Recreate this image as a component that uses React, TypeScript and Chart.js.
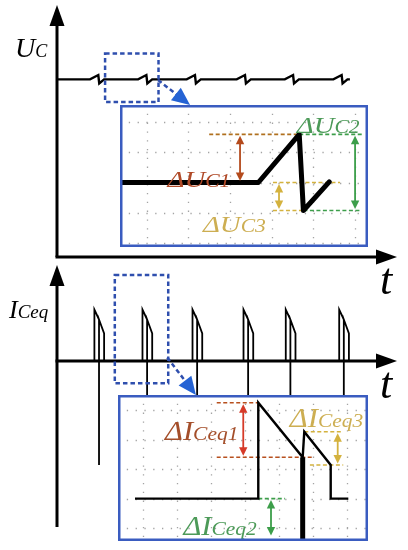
import React, { useEffect, useRef } from "react";
import { Chart, registerables } from "chart.js";

Chart.register(...registerables);

const FONT = '"Liberation Serif", "Times New Roman", serif';

// ================= DATA =================
// Time in switching periods (both main panels share the same time axis)
const TIME_AXIS_MAX = 7;

// ---- Top panel: capacitor voltage U_C ----
const UC_AXIS_MAX = 10;
const UC_LEVEL = 7.05;
const UC_END = 6.03;
const UC_RIPPLE_STARTS = [0.68, 1.67, 2.67, 3.7, 4.69, 5.69];
// one ripple event: [time offset, voltage offset]
const UC_RIPPLE_SHAPE = [
  [0, 0],
  [0.17, 0.17],
  [0.19, -0.16],
  [0.29, 0],
];
const UC_ZOOM_T = [0.99, 2.09];
const UC_ZOOM_V = [6.15, 8.08];
const UC_ZOOM_ARROW = [
  [2.08, 7.02],
  [2.74, 6.03],
];

// ---- Bottom panel: equivalent capacitor current I_Ceq ----
const ICEQ_AXIS_MIN = -16.6;
const ICEQ_AXIS_MAX = 9.6;
const ICEQ_SPIKE_STARTS = [0.77, 1.76, 2.79, 3.84, 4.71, 5.81];
// one current pulse: [time offset, current]
const ICEQ_SPIKE_SHAPE = [
  [0, 0],
  [0, 5.15],
  [0.095, 4.15],
  [0.095, -10.4],
  [0.095, 4.15],
  [0.2, 2.75],
  [0.2, 0],
];
const ICEQ_ZOOM_T = [1.19, 2.29];
const ICEQ_ZOOM_V = [-2.23, 8.6];
const ICEQ_ZOOM_ARROW = [
  [2.27, 0.35],
  [2.86, -3.4],
];

// ---- Top detail (units = grid divisions) ----
const UC_DETAIL_X = [-0.62, 2.68, 3.66, 3.76, 4.38];
const UC_DETAIL_Y = [0, 0, 1.6, -0.93, 0.02];
const UC_PEAK = 1.6;
const UC_FLAT = 0;
const UC_MIN = -0.93;
// dashed guide lines: [x1, x2, y, colorKey]
const UC_GUIDES: [number, number, number, string][] = [
  [1.5, 3.66, UC_PEAK, "g1"],
  [3.66, 5.16, UC_PEAK, "c2"],
  [3.76, 5.16, UC_MIN, "c2"],
  [3.03, 4.64, UC_FLAT, "c3"],
  [3.03, 3.76, UC_MIN, "c3"],
];
// double arrows: [x, y1, y2, colorKey]
const UC_ARROWS: [number, number, number, string][] = [
  [2.24, UC_PEAK, UC_FLAT, "a1"],
  [5.0, UC_PEAK, UC_MIN, "c2"],
  [3.175, UC_FLAT, UC_MIN, "c3"],
];
// labels: [x, y, subscript, colorKey]
const UC_LABELS: [number, number, string, string][] = [
  [0.5, -0.15, "C1", "t1"],
  [3.6, 1.645, "C2", "c2t"],
  [1.35, -1.645, "C3", "c3t"],
];

// ---- Bottom detail (units = grid divisions) ----
const ICEQ_DETAIL_X = [-0.244, 3.382, 3.382, 4.688, 4.735, 5.512, 5.512, 6.03];
const ICEQ_DETAIL_Y = [0, 0, 3.262, 1.405, 2.276, 1.143, 0, 0];
const ICEQ_DETAIL_DIP_X = [4.688, 4.688];
const ICEQ_DETAIL_DIP_Y = [1.405, -1.6];
const ICEQ_GUIDES: [number, number, number, string][] = [
  [2.16, 3.382, 3.262, "i1"],
  [2.16, 5.0, 1.405, "i1"],
  [3.382, 4.17, 0, "c2"],
  [4.735, 5.88, 2.276, "c3"],
  [4.9, 5.88, 1.143, "c3"],
];
const ICEQ_ARROWS: [number, number, number, string][] = [
  [2.94, 3.262, 1.405, "ia1"],
  [3.756, 0, -1.306, "c2"],
  [5.718, 2.276, 1.143, "c3"],
];
const ICEQ_LABELS: [number, number, string, string][] = [
  [0.64, 1.99, "Ceq1", "it1"],
  [1.18, -1.24, "Ceq2", "c2t"],
  [4.31, 2.44, "Ceq3", "c3t"],
];

// ================= STYLE =================
const C: Record<string, string> = {
  axis: "#000000",
  wave: "#000000",
  zoomBox: "#2f4fae",
  zoomHead: "#2563d4",
  border: "#3a5cc0",
  grid: "#a4a4a4",
  g1: "#b0701e",
  a1: "#b44a1c",
  t1: "#b04a28",
  c2: "#3c9e4a",
  c2t: "#4c9a58",
  c3: "#d4b23e",
  c3t: "#cdae52",
  i1: "#b8501e",
  ia1: "#d63a28",
  it1: "#a44e2a",
};

// ================= HELPERS =================
function arrowHead(ctx: CanvasRenderingContext2D, x1: number, y1: number, x2: number, y2: number, len: number, half: number, color: string) {
  const a = Math.atan2(y2 - y1, x2 - x1);
  const bx = x2 - len * Math.cos(a);
  const by = y2 - len * Math.sin(a);
  ctx.beginPath();
  ctx.moveTo(x2, y2);
  ctx.lineTo(bx + half * Math.sin(a), by - half * Math.cos(a));
  ctx.lineTo(bx - half * Math.sin(a), by + half * Math.cos(a));
  ctx.closePath();
  ctx.fillStyle = color;
  ctx.fill();
}

function drawParts(ctx: CanvasRenderingContext2D, x: number, y: number, parts: [string, number][], color: string, stretch = 1) {
  ctx.save();
  ctx.translate(x, y);
  ctx.scale(stretch, 1);
  ctx.fillStyle = color;
  ctx.textBaseline = "alphabetic";
  ctx.textAlign = "left";
  let cx = 0;
  for (const [s, size] of parts) {
    ctx.font = `italic ${size}px ${FONT}`;
    ctx.fillText(s, cx, 0);
    cx += ctx.measureText(s).width;
  }
  ctx.restore();
}

function lineDs(xs: number[], ys: number[], color: string, width: number, extra: any = {}) {
  return {
    data: xs.map((x, i) => ({ x, y: ys[i] })),
    borderColor: color,
    borderWidth: width,
    pointRadius: 0,
    fill: false,
    tension: 0,
    clip: false,
    ...extra,
  };
}

function baseOptions(xMin: number, xMax: number, yMin: number, yMax: number, padding: any) {
  return {
    responsive: false,
    animation: false,
    devicePixelRatio: 1,
    events: [],
    layout: { padding },
    scales: {
      x: { type: "linear", display: false, min: xMin, max: xMax },
      y: { type: "linear", display: false, min: yMin, max: yMax },
    },
    plugins: { legend: { display: false }, tooltip: { enabled: false } },
  };
}

function mainPlugin(kind: "uc" | "ic") {
  return {
    id: "mainAxes" + kind,
    afterDatasetsDraw(chart: any) {
      const { ctx, chartArea: a } = chart;
      const xs = chart.scales.x;
      const ys = chart.scales.y;
      const x0 = xs.getPixelForValue(0);
      const y0 = ys.getPixelForValue(0);
      ctx.save();
      ctx.strokeStyle = C.axis;
      ctx.lineWidth = 3;
      ctx.setLineDash([]);
      ctx.beginPath();
      ctx.moveTo(x0 - 1.5, y0);
      ctx.lineTo(a.right - 18, y0);
      ctx.stroke();
      arrowHead(ctx, x0, y0, a.right, y0, 21, 7.5, C.axis);
      ctx.beginPath();
      ctx.moveTo(x0, a.bottom);
      ctx.lineTo(x0, a.top + 18);
      ctx.stroke();
      arrowHead(ctx, x0, a.bottom, x0, a.top, 21, 7.5, C.axis);

      // axis titles
      drawParts(ctx, a.right - 17, y0 + 37, [["t", 44]], C.axis);
      if (kind === "uc") {
        drawParts(ctx, x0 - 42, a.top + 52, [["U", 28], ["C", 18]], C.axis);
      } else {
        drawParts(ctx, x0 - 48, a.top + 53, [["I", 26], ["Ceq", 19]], C.axis);
      }

      // zoom window
      const zt = kind === "uc" ? UC_ZOOM_T : ICEQ_ZOOM_T;
      const zv = kind === "uc" ? UC_ZOOM_V : ICEQ_ZOOM_V;
      const za = kind === "uc" ? UC_ZOOM_ARROW : ICEQ_ZOOM_ARROW;
      const bx1 = xs.getPixelForValue(zt[0]);
      const bx2 = xs.getPixelForValue(zt[1]);
      const by1 = ys.getPixelForValue(zv[1]);
      const by2 = ys.getPixelForValue(zv[0]);
      ctx.strokeStyle = C.zoomBox;
      ctx.lineWidth = 2.5;
      ctx.setLineDash([4.5, 3]);
      ctx.strokeRect(bx1, by1, bx2 - bx1, by2 - by1);
      const ax1 = xs.getPixelForValue(za[0][0]);
      const ay1 = ys.getPixelForValue(za[0][1]);
      const ax2 = xs.getPixelForValue(za[1][0]);
      const ay2 = ys.getPixelForValue(za[1][1]);
      const ang = Math.atan2(ay2 - ay1, ax2 - ax1);
      ctx.beginPath();
      ctx.moveTo(ax1, ay1);
      ctx.lineTo(ax2 - 14 * Math.cos(ang), ay2 - 14 * Math.sin(ang));
      ctx.stroke();
      ctx.setLineDash([]);
      arrowHead(ctx, ax1, ay1, ax2, ay2, 18, 8, C.zoomHead);
      ctx.restore();
    },
  };
}

function insetPlugin(
  guidesArrows: [number, number, number, string][],
  labels: [number, number, string, string][],
  mainLetter: string,
  bigSize: number,
  subSize: number,
  stretch: number
) {
  return {
    id: "inset" + mainLetter,
    beforeDraw(chart: any) {
      const { ctx, width, height } = chart;
      ctx.save();
      ctx.fillStyle = "#ffffff";
      ctx.fillRect(0, 0, width, height);
      ctx.restore();
    },
    beforeDatasetsDraw(chart: any) {
      const { ctx, width, height } = chart;
      const xs = chart.scales.x;
      const ys = chart.scales.y;
      ctx.save();
      ctx.strokeStyle = C.grid;
      ctx.lineWidth = 1.3;
      ctx.setLineDash([1.3, 7.5]);
      for (let v = Math.ceil(xs.min); v <= Math.floor(xs.max); v++) {
        const p = Math.round(xs.getPixelForValue(v)) + 0.5;
        ctx.beginPath();
        ctx.moveTo(p, 0);
        ctx.lineTo(p, height);
        ctx.stroke();
      }
      for (let v = Math.ceil(ys.min); v <= Math.floor(ys.max); v++) {
        const p = Math.round(ys.getPixelForValue(v)) + 0.5;
        ctx.beginPath();
        ctx.moveTo(0, p);
        ctx.lineTo(width, p);
        ctx.stroke();
      }
      ctx.restore();
    },
    afterDatasetsDraw(chart: any) {
      const { ctx, width, height } = chart;
      const xs = chart.scales.x;
      const ys = chart.scales.y;
      ctx.save();
      ctx.setLineDash([]);
      for (const [x, y1, y2, key] of guidesArrows) {
        const px = xs.getPixelForValue(x);
        const p1 = ys.getPixelForValue(y1);
        const p2 = ys.getPixelForValue(y2);
        const dir = p2 > p1 ? 1 : -1;
        ctx.strokeStyle = C[key];
        ctx.lineWidth = 1.8;
        ctx.beginPath();
        ctx.moveTo(px, p1 + dir * 6);
        ctx.lineTo(px, p2 - dir * 6);
        ctx.stroke();
        arrowHead(ctx, px, p2, px, p1 + dir * 1.5, 8.5, 4.2, C[key]);
        arrowHead(ctx, px, p1, px, p2 - dir * 1.5, 8.5, 4.2, C[key]);
      }
      for (const [x, y, sub, key] of labels) {
        drawParts(
          ctx,
          xs.getPixelForValue(x),
          ys.getPixelForValue(y),
          [["\u0394" + mainLetter, bigSize], [sub, subSize]],
          C[key],
          stretch
        );
      }
      ctx.strokeStyle = C.border;
      ctx.lineWidth = 2.5;
      ctx.strokeRect(1.25, 1.25, width - 2.5, height - 2.5);
      ctx.restore();
    },
  };
}

// ================= CHART BUILDERS =================
function buildTopMain() {
  const xs: number[] = [0];
  const ys: number[] = [UC_LEVEL];
  UC_RIPPLE_STARTS.forEach((t0) =>
    UC_RIPPLE_SHAPE.forEach(([dt, dv]) => {
      xs.push(t0 + dt);
      ys.push(UC_LEVEL + dv);
    })
  );
  xs.push(UC_END);
  ys.push(UC_LEVEL);
  return {
    type: "line",
    data: { datasets: [lineDs(xs, ys, C.wave, 2.4, { borderJoinStyle: "miter" })] },
    options: baseOptions(0, TIME_AXIS_MAX, 0, UC_AXIS_MAX, { left: 57, right: 11, top: 5, bottom: 43 }),
    plugins: [mainPlugin("uc")],
  };
}

function buildBottomMain() {
  const pts: { x: number; y: number | null }[] = [];
  ICEQ_SPIKE_STARTS.forEach((t0) => {
    ICEQ_SPIKE_SHAPE.forEach(([dt, v]) => pts.push({ x: t0 + dt, y: v }));
    pts.push({ x: t0 + 0.3, y: null });
  });
  return {
    type: "line",
    data: {
      datasets: [
        {
          data: pts,
          borderColor: C.wave,
          borderWidth: 1.8,
          pointRadius: 0,
          fill: false,
          tension: 0,
          clip: false,
          spanGaps: false,
          borderJoinStyle: "miter",
        },
      ],
    },
    options: baseOptions(0, TIME_AXIS_MAX, ICEQ_AXIS_MIN, ICEQ_AXIS_MAX, { left: 57, right: 11, top: 5, bottom: 23 }),
    plugins: [mainPlugin("ic")],
  };
}

function guideDatasets(guides: [number, number, number, string][]) {
  return guides.map(([x1, x2, y, key]) => lineDs([x1, x2], [y, y], C[key], 1.6, { borderDash: [4, 2.5], order: 2 }));
}

function buildTopInset() {
  return {
    type: "line",
    data: {
      datasets: [
        lineDs(UC_DETAIL_X, UC_DETAIL_Y, C.wave, 5, { order: 0, borderJoinStyle: "round", borderCapStyle: "round" }),
        ...guideDatasets(UC_GUIDES),
      ],
    },
    options: baseOptions(-0.64, 5.31, -2.143, 2.575, 0),
    plugins: [insetPlugin(UC_ARROWS, UC_LABELS, "U", 24, 18, 1.2)],
  };
}

function buildBottomInset() {
  return {
    type: "line",
    data: {
      datasets: [
        lineDs(ICEQ_DETAIL_X, ICEQ_DETAIL_Y, C.wave, 2.4, { order: 0, borderJoinStyle: "miter" }),
        lineDs(ICEQ_DETAIL_DIP_X, ICEQ_DETAIL_DIP_Y, C.wave, 5, { order: 0 }),
        ...guideDatasets(ICEQ_GUIDES),
      ],
    },
    options: baseOptions(-0.744, 6.609, -1.442, 3.524, 0),
    plugins: [insetPlugin(ICEQ_ARROWS, ICEQ_LABELS, "I", 27, 19, 1.13)],
  };
}

// ================= COMPONENTS =================
function ChartBox({ left, top, width, height, build }: { left: number; top: number; width: number; height: number; build: () => any }) {
  const ref = useRef<HTMLCanvasElement>(null);
  useEffect(() => {
    const chart = new Chart(ref.current as HTMLCanvasElement, build());
    return () => chart.destroy();
  }, []);
  return <canvas ref={ref} width={width} height={height} style={{ position: "absolute", left, top, width, height }} />;
}

export default function App() {
  return (
    <div style={{ position: "fixed", left: 0, top: 0, width: 408, height: 550, background: "#ffffff", overflow: "hidden" }}>
      <ChartBox left={0} top={0} width={408} height={300} build={buildTopMain} />
      <ChartBox left={0} top={260} width={408} height={290} build={buildBottomMain} />
      <ChartBox left={120} top={105} width={248} height={142} build={buildTopInset} />
      <ChartBox left={118} top={395} width={250} height={146} build={buildBottomInset} />
    </div>
  );
}
